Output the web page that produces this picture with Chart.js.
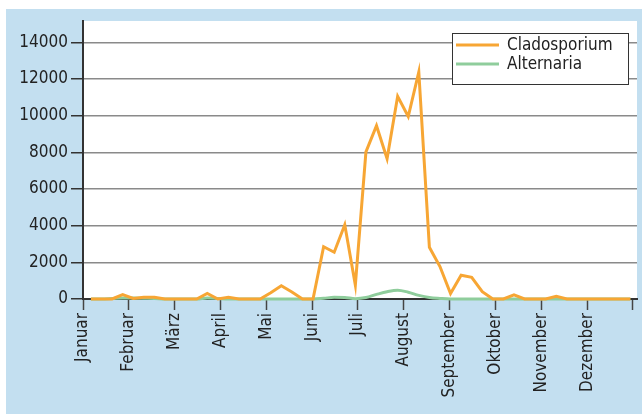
<!DOCTYPE html>
<html>
<head>
<meta charset="utf-8">
<script src="https://cdn.jsdelivr.net/npm/chart.js@4"></script>
<style>
  html, body { margin: 0; padding: 0; background: #fff; }
  #wrap { width: 642px; height: 414px; }
</style>
</head>
<body>
<div id="wrap"><canvas id="chart" width="642" height="414"></canvas></div>
<script>
// =========================
// Données (52 semaines)
// =========================
const monate = ["Januar", "Februar", "März", "April", "Mai", "Juni", "Juli",
  "August", "September", "Oktober", "November", "Dezember"];

const cladosporium = [
  0, 0, 0, 240, 30, 100, 90, 0, 0, 0, 0, 300, 0,
  90, 0, 0, 0, 340, 720, 380, 0, 0, 2850, 2550, 4050, 760,
  8020, 9450, 7650, 11050, 9950, 12380, 2820, 1770, 300, 1300, 1180, 400, 0,
  0, 220, 0, 0, 0, 150, 0, 0, 0, 0, 0, 0, 0
];

const alternaria = [
  0, 0, 30, 60, 50, 40, 30, 0, 0, 0, 0, 60, 30,
  0, 0, 0, 0, 0, 0, 0, 0, 0, 40, 90, 80, 20,
  80, 250, 400, 480, 370, 200, 80, 30, 0, 0, 0, 0, 0,
  0, 0, 0, 0, 0, 0, 0, 0, 0, 0, 0, 0, 0
];

const yTicks = [0, 2000, 4000, 6000, 8000, 10000, 12000, 14000];

const FONT = "'DejaVu Sans Condensed', 'DejaVu Sans', sans-serif";
const WOCHEN = 52;

// semaine k -> position (en semaines) sur l'axe des mois
const toPoints = arr => arr.map((v, k) => ({ x: k + 0.75, y: v }));

// =========================
// Fond bleu + zone blanche
// =========================
const fondPlugin = {
  id: 'fond',
  beforeDraw(chart) {
    const { ctx, chartArea: a } = chart;
    ctx.save();
    ctx.fillStyle = '#ffffff';
    ctx.fillRect(0, 0, chart.width, chart.height);
    ctx.fillStyle = '#c3dff0';
    ctx.fillRect(6, 9, chart.width - 6, chart.height - 9);
    ctx.fillStyle = '#ffffff';
    ctx.fillRect(a.left, a.top, a.right - a.left, a.bottom - a.top);
    ctx.restore();
  }
};

// =========================
// Légende encadrée
// =========================
const legendePlugin = {
  id: 'legende',
  afterDatasetsDraw(chart) {
    const ctx = chart.ctx;
    const x = 452, y = 33, w = 176, h = 51;
    ctx.save();
    ctx.fillStyle = '#fff';
    ctx.fillRect(x, y, w, h);
    ctx.strokeStyle = '#333';
    ctx.lineWidth = 1;
    ctx.strokeRect(x + 0.5, y + 0.5, w, h);
    ctx.font = '17px ' + FONT;
    ctx.textBaseline = 'middle';
    chart.data.datasets.forEach((ds, i) => {
      const ly = y + 12 + i * 19;
      ctx.strokeStyle = ds.borderColor;
      ctx.lineWidth = 3;
      ctx.beginPath();
      ctx.moveTo(x + 4, ly);
      ctx.lineTo(x + 47, ly);
      ctx.stroke();
      ctx.fillStyle = '#222';
      ctx.fillText(ds.label, x + 55, ly + 1);
    });
    ctx.restore();
  }
};

new Chart(document.getElementById('chart'), {
  type: 'line',
  data: {
    datasets: [
      {
        label: 'Cladosporium',
        data: toPoints(cladosporium),
        borderColor: '#f7a634',
        borderWidth: 3,
        pointRadius: 0,
        tension: 0,
        clip: false
      },
      {
        label: 'Alternaria',
        data: toPoints(alternaria),
        borderColor: '#8fcd9c',
        borderWidth: 3,
        pointRadius: 0,
        tension: 0.4,
        cubicInterpolationMode: 'monotone',
        clip: false
      }
    ]
  },
  options: {
    responsive: false,
    animation: false,
    devicePixelRatio: 1,
    layout: { padding: { left: 0, top: 21, right: 5, bottom: 0 } },
    plugins: {
      legend: { display: false },
      tooltip: { enabled: false }
    },
    scales: {
      x: {
        type: 'linear',
        min: 0,
        max: 52.38,
        afterBuildTicks: s => {
          const t = monate.map((m, i) => ({ value: i * WOCHEN / 12 }));
          t.push({ value: WOCHEN });
          s.ticks = t;
        },
        afterFit: s => {
          s.height = 115;
          s.paddingLeft = 0;
          s.paddingRight = 0;
        },
        grid: {
          drawOnChartArea: false,
          drawTicks: true,
          tickLength: 11,
          tickColor: '#444',
          tickWidth: 1.5
        },
        border: { color: '#333', width: 2 },
        ticks: {
          autoSkip: false,
          minRotation: 90,
          maxRotation: 90,
          padding: 3,
          color: '#222',
          font: { family: FONT, size: 17 },
          callback: (v, i) => monate[i] || ''
        }
      },
      y: {
        min: 0,
        max: 15160,
        afterBuildTicks: s => { s.ticks = yTicks.map(v => ({ value: v })); },
        afterFit: s => {
          s.width = 83;
          s.paddingTop = 0;
          s.paddingBottom = 0;
        },
        grid: {
          color: '#8a8a8a',
          lineWidth: 1.5,
          tickLength: 12,
          tickColor: '#333',
          tickWidth: 1.5
        },
        border: { color: '#333', width: 2 },
        ticks: {
          padding: 3,
          color: '#222',
          font: { family: FONT, size: 17 },
          callback: v => String(v)
        }
      }
    }
  },
  plugins: [fondPlugin, legendePlugin]
});
</script>
</body>
</html>
